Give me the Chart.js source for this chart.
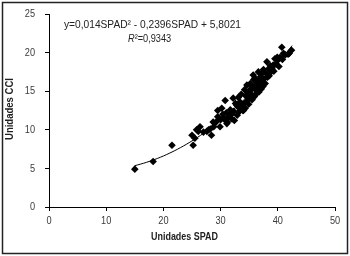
<!DOCTYPE html>
<html>
<head>
<meta charset="utf-8">
<script src="https://cdn.jsdelivr.net/npm/chart.js@4/dist/chart.umd.min.js"></script>
<style>
  body { margin: 0; background: #fff; }
  canvas { display: block; }
</style>
</head>
<body>
<canvas id="chart" width="350" height="256"></canvas>
<script>
// SPAD readings (x) and CCI readings (y)
const spadValues = [15.0, 18.2, 21.5, 25.0, 25.2, 25.5, 25.8, 26.1, 26.4, 27.0, 27.6, 27.9, 28.2, 28.4, 28.7, 28.8, 29.2, 29.5, 29.5, 29.9,
  30.0, 30.2, 30.4, 30.5, 30.6, 30.8, 31.0, 31.1, 31.2, 31.4, 31.6, 31.7, 31.9, 32.0, 32.2, 32.3, 32.4, 32.6, 32.8, 32.9,
  33.0, 33.1, 33.2, 33.4, 33.5, 33.6, 33.8, 33.9, 34.0, 34.1, 34.2, 34.3, 34.4, 34.6, 34.7, 34.8, 34.9, 35.0, 35.1, 35.2,
  35.4, 35.4, 35.5, 35.6, 35.7, 35.8, 35.9, 36.0, 36.1, 36.2, 36.3, 36.4, 36.5, 36.6, 36.7, 36.8, 36.9, 37.0, 37.1, 37.2,
  37.3, 37.4, 37.5, 37.6, 37.8, 38.1, 38.0, 38.2, 38.4, 38.5, 38.7, 38.8, 39.0, 39.2, 39.3, 39.5, 39.7, 39.9, 40.0, 40.2,
  40.4, 40.7, 40.8, 41.0, 41.3, 41.8, 42.0, 42.4];
const cciValues = [4.9, 5.9, 8.0, 9.3, 8.0, 8.9, 10.0, 9.8, 10.4, 9.7, 9.8, 10.0, 10.1, 9.3, 11.0, 10.4, 11.0, 12.5, 11.7, 10.4,
  11.3, 12.8, 12.0, 11.5, 11.4, 13.8, 12.2, 10.8, 11.0, 11.7, 11.9, 12.6, 12.0, 11.4, 14.1, 12.4, 11.2, 13.4, 13.2, 11.9,
  13.0, 14.2, 12.3, 13.6, 12.9, 14.6, 13.2, 12.5, 12.5, 13.4, 15.2, 12.8, 14.4, 15.8, 13.8, 14.8, 13.3, 15.1, 14.2, 16.0,
  15.6, 14.6, 13.9, 15.4, 17.1, 16.5, 14.3, 16.7, 15.2, 15.8, 14.7, 16.1, 15.5, 17.5, 14.9, 16.4, 15.7, 16.9, 15.3, 17.3,
  16.2, 15.6, 17.8, 16.6, 16.0, 18.8, 17.3, 16.8, 17.9, 17.0, 18.3, 17.5, 18.0, 18.4, 17.6, 19.2, 18.5, 19.4, 19.0, 18.2,
  19.4, 20.7, 19.1, 19.9, 19.7, 19.8, 19.9, 20.3];

// quadratic trendline printed on the chart: a*x^2 + b*x + c
const trendCoef = [0.014, -0.2396, 5.8021];
const trendRange = [15, 42.5];
const equationText = 'y=0,014SPAD² - 0,2396SPAD + 5,8021';
const r2Text = '²=0,9343';

const xTicks = [0, 10, 20, 30, 40, 50];
const yTicks = [0, 5, 10, 15, 20, 25];

const FONT = "'Liberation Sans', Arial, sans-serif";

const points = spadValues.map((x, i) => ({ x: x, y: cciValues[i] }));

const trendPoints = [];
for (let x = trendRange[0]; x <= trendRange[1] + 1e-9; x += 0.5) {
    trendPoints.push({ x: x, y: trendCoef[0] * x * x + trendCoef[1] * x + trendCoef[2] });
}

// the original uses a narrow face; squeeze the text horizontally
function narrowText(ctx, text, x, y, sx, align) {
    const w = ctx.measureText(text).width * sx;
    let left = x;
    if (align === 'center') left = x - w / 2;
    if (align === 'right') left = x - w;
    ctx.save();
    ctx.translate(left, y);
    ctx.scale(sx, 1);
    ctx.textAlign = 'left';
    ctx.fillText(text, 0, 0);
    ctx.restore();
    return w;
}

const decorations = {
    id: 'decorations',
    afterDraw(chart) {
        const ctx = chart.ctx;
        const xs = chart.scales.x, ys = chart.scales.y;
        ctx.save();
        // frame round the picture
        ctx.strokeStyle = '#222';
        ctx.lineWidth = 1.5;
        ctx.strokeRect(2.5, 2.5, 345, 251);

        ctx.textBaseline = 'middle';

        // tick labels
        ctx.fillStyle = '#3a3a3a';
        ctx.font = '11.5px ' + FONT;
        xTicks.forEach(v => narrowText(ctx, String(v), xs.getPixelForValue(v), 220.5, 0.8, 'center'));
        yTicks.forEach(v => narrowText(ctx, String(v), 35, ys.getPixelForValue(v), 0.8, 'right'));

        // trendline equation
        ctx.fillStyle = '#222';
        ctx.font = '11.5px ' + FONT;
        const eqW = ctx.measureText(equationText).width;
        narrowText(ctx, equationText, 64, 25, 177 / eqW, 'left');
        ctx.font = 'italic 11.5px ' + FONT;
        const rw = narrowText(ctx, 'R', 128, 39, 0.8, 'left');
        ctx.font = '11.5px ' + FONT;
        narrowText(ctx, r2Text, 128 + rw, 39, 0.8, 'left');

        // axis titles
        ctx.font = 'bold 11.5px ' + FONT;
        const xtW = ctx.measureText('Unidades SPAD').width;
        narrowText(ctx, 'Unidades SPAD', 184.5, 237, 67 / xtW, 'center');
        const ytW = ctx.measureText('Unidades CCI').width;
        ctx.translate(10, 109);
        ctx.rotate(-Math.PI / 2);
        narrowText(ctx, 'Unidades CCI', 0, 0, 62 / ytW, 'center');
        ctx.restore();
    }
};

new Chart(document.getElementById('chart'), {
    type: 'scatter',
    data: {
        datasets: [{
            data: points,
            pointStyle: 'rectRot',
            pointRadius: 3.8,
            backgroundColor: '#000',
            borderWidth: 0
        }, {
            data: trendPoints,
            showLine: true,
            pointRadius: 0,
            borderColor: '#000',
            borderWidth: 1,
            fill: false
        }]
    },
    options: {
        responsive: false,
        animation: false,
        layout: { padding: { top: 14, right: 15, left: 0, bottom: 0 } },
        plugins: {
            legend: { display: false },
            tooltip: { enabled: false }
        },
        scales: {
            x: {
                type: 'linear',
                min: 0,
                max: 50,
                afterBuildTicks: s => { s.ticks = xTicks.map(v => ({ value: v })); },
                afterFit: s => { s.height = 49; },
                ticks: { display: false },
                grid: { drawOnChartArea: false, tickLength: 4, color: '#000' },
                border: { color: '#000', width: 1 }
            },
            y: {
                min: 0,
                max: 25,
                afterBuildTicks: s => { s.ticks = yTicks.map(v => ({ value: v })); },
                afterFit: s => { s.width = 49; },
                ticks: { display: false },
                grid: { drawOnChartArea: false, tickLength: 4, color: '#000' },
                border: { color: '#000', width: 1 }
            }
        }
    },
    plugins: [decorations]
});
</script>
</body>
</html>
